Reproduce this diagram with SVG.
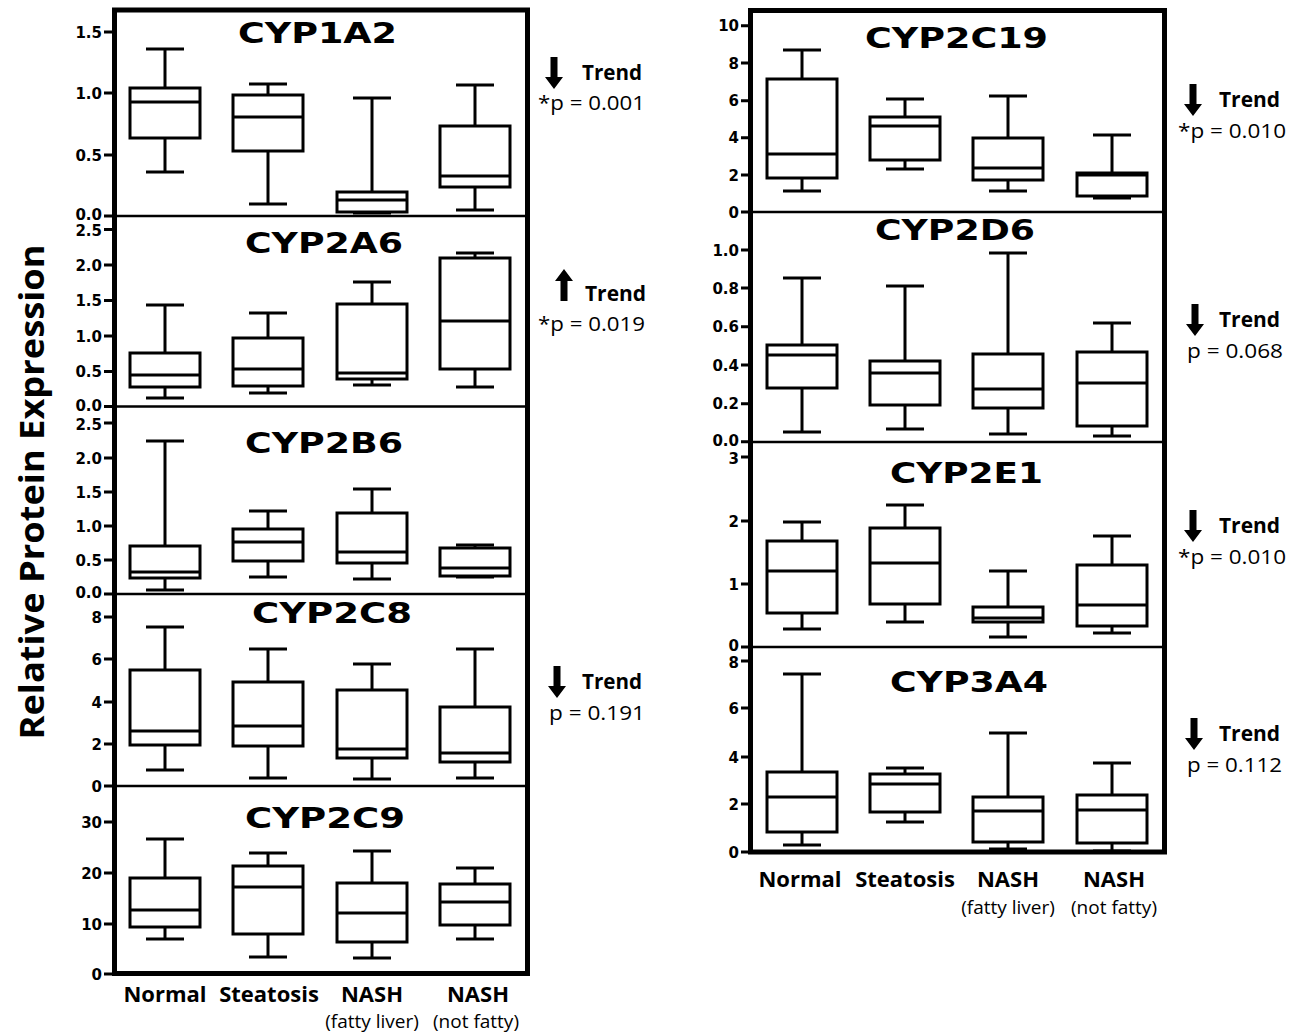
<svg xmlns="http://www.w3.org/2000/svg" width="1299" height="1033" viewBox="0 0 1299 1033">
<style>
.frame{fill:none;stroke:#000;stroke-width:5}
.div{stroke:#000;stroke-width:2.5}
.tk{stroke:#000;stroke-width:3}
.tl{font-family:"DejaVu Sans",sans-serif;font-weight:bold;font-size:15px;text-anchor:end;fill:#000}
.w{fill:none;stroke:#000;stroke-width:3}
.b{fill:#fff;stroke:#000;stroke-width:3}
.ttl{font-family:"DejaVu Sans",sans-serif;font-weight:bold;font-size:29px;fill:#000}
.cat{font-family:"Open Sans",sans-serif;font-weight:bold;font-size:22px;text-anchor:middle;fill:#000}
.sub{font-family:"Open Sans",sans-serif;font-size:19px;text-anchor:middle;fill:#000}
.tr{font-family:"Open Sans",sans-serif;font-weight:bold;font-size:21px;fill:#000}
.pv{font-family:"Open Sans",sans-serif;font-size:20px;fill:#000}
.yl{font-family:"Open Sans",sans-serif;font-weight:bold;font-size:34px;text-anchor:middle;fill:#000}
</style>
<defs>
<path id="dn" d="M-3.5 0H3.5V20H9L0 32L-9 20H-3.5Z" fill="#000"/>
</defs>
<rect width="1299" height="1033" fill="#fff"/>

<text class="yl" transform="translate(44,492) rotate(-90)" textLength="495" lengthAdjust="spacingAndGlyphs">Relative Protein Expression</text>

<g id="left-frame">
<rect class="frame" x="114.5" y="10" width="413" height="963.5"/>
<path class="div" d="M114.5 216H527.5M114.5 406.5H527.5M114.5 594H527.5M114.5 786H527.5"/>
</g>

<g id="CYP1A2">
<path class="tk" d="M104 216H114M104 155H114M104 93H114M104 32H114"/>
<text class="tl" x="102" y="219.5">0.0</text><text class="tl" x="102" y="160.5">0.5</text><text class="tl" x="102" y="98.5">1.0</text><text class="tl" x="102" y="37.5">1.5</text>
<text class="ttl" x="238" y="43" textLength="159" lengthAdjust="spacingAndGlyphs">CYP1A2</text>
<rect class="b" x="130" y="88" width="70" height="50"/><path class="w" d="M165 49V88M165 138V172M146 49H184M146 172H184M130 102H200"/>
<rect class="b" x="233" y="95" width="70" height="56"/><path class="w" d="M268 84V95M268 151V204M249 84H287M249 204H287M233 117H303"/>
<rect class="b" x="337" y="192" width="70" height="20"/><path class="w" d="M372 98V192M372 212V213M353 98H391M353 213H391M337 200H407"/>
<rect class="b" x="440" y="126" width="70" height="61"/><path class="w" d="M475 85V126M475 187V210M456 85H494M456 210H494M440 176H510"/>
</g>

<g id="CYP2A6">
<path class="tk" d="M104 406.5H114M104 371.5H114M104 336H114M104 300.5H114M104 265H114M104 229.5H114"/>
<text class="tl" x="102" y="410.5">0.0</text><text class="tl" x="102" y="377">0.5</text><text class="tl" x="102" y="341.5">1.0</text><text class="tl" x="102" y="306">1.5</text><text class="tl" x="102" y="270.5">2.0</text><text class="tl" x="102" y="236">2.5</text>
<text class="ttl" x="245" y="253" textLength="158" lengthAdjust="spacingAndGlyphs">CYP2A6</text>
<rect class="b" x="130" y="353" width="70" height="34"/><path class="w" d="M165 305V353M165 387V398M146 305H184M146 398H184M130 375H200"/>
<rect class="b" x="233" y="338" width="70" height="48"/><path class="w" d="M268 313V338M268 386V393M249 313H287M249 393H287M233 369H303"/>
<rect class="b" x="337" y="304" width="70" height="75"/><path class="w" d="M372 282V304M372 379V385M353 282H391M353 385H391M337 373H407"/>
<rect class="b" x="440" y="258" width="70" height="111"/><path class="w" d="M475 253V258M475 369V387M456 253H494M456 387H494M440 321H510"/>
</g>

<g id="CYP2B6">
<path class="tk" d="M104 594H114M104 560H114M104 526H114M104 492H114M104 458H114M104 423H114"/>
<text class="tl" x="102" y="598">0.0</text><text class="tl" x="102" y="565.5">0.5</text><text class="tl" x="102" y="531.5">1.0</text><text class="tl" x="102" y="497.5">1.5</text><text class="tl" x="102" y="463.5">2.0</text><text class="tl" x="102" y="429.5">2.5</text>
<text class="ttl" x="245" y="453" textLength="158" lengthAdjust="spacingAndGlyphs">CYP2B6</text>
<rect class="b" x="130" y="546" width="70" height="32"/><path class="w" d="M165 441V546M165 578V590M146 441H184M146 590H184M130 572H200"/>
<rect class="b" x="233" y="529" width="70" height="32"/><path class="w" d="M268 511V529M268 561V577M249 511H287M249 577H287M233 542H303"/>
<rect class="b" x="337" y="513" width="70" height="50"/><path class="w" d="M372 489V513M372 563V579M353 489H391M353 579H391M337 552H407"/>
<rect class="b" x="440" y="548" width="70" height="28"/><path class="w" d="M475 545V548M475 576V577M456 545H494M456 577H494M440 568H510"/>
</g>

<g id="CYP2C8">
<path class="tk" d="M104 786H114M104 744H114M104 702H114M104 659H114M104 617H114"/>
<text class="tl" x="102" y="791.5">0</text><text class="tl" x="102" y="749.5">2</text><text class="tl" x="102" y="707.5">4</text><text class="tl" x="102" y="664.5">6</text><text class="tl" x="102" y="622.5">8</text>
<text class="ttl" x="252" y="623" textLength="160" lengthAdjust="spacingAndGlyphs">CYP2C8</text>
<rect class="b" x="130" y="670" width="70" height="75"/><path class="w" d="M165 627V670M165 745V770M146 627H184M146 770H184M130 731H200"/>
<rect class="b" x="233" y="682" width="70" height="64"/><path class="w" d="M268 649V682M268 746V778M249 649H287M249 778H287M233 726H303"/>
<rect class="b" x="337" y="690" width="70" height="68"/><path class="w" d="M372 664V690M372 758V779M353 664H391M353 779H391M337 749H407"/>
<rect class="b" x="440" y="707" width="70" height="55"/><path class="w" d="M475 649V707M475 762V778M456 649H494M456 778H494M440 753H510"/>
</g>

<g id="CYP2C9">
<path class="tk" d="M104 974H114M104 924H114M104 873H114M104 822H114"/>
<text class="tl" x="102" y="979.5">0</text><text class="tl" x="102" y="929.5">10</text><text class="tl" x="102" y="878.5">20</text><text class="tl" x="102" y="827.5">30</text>
<text class="ttl" x="245" y="828" textLength="160" lengthAdjust="spacingAndGlyphs">CYP2C9</text>
<rect class="b" x="130" y="878" width="70" height="49"/><path class="w" d="M165 839V878M165 927V939M146 839H184M146 939H184M130 910H200"/>
<rect class="b" x="233" y="866" width="70" height="68"/><path class="w" d="M268 853V866M268 934V957M249 853H287M249 957H287M233 887H303"/>
<rect class="b" x="337" y="883" width="70" height="59"/><path class="w" d="M372 851V883M372 942V958M353 851H391M353 958H391M337 913H407"/>
<rect class="b" x="440" y="884" width="70" height="41"/><path class="w" d="M475 868V884M475 925V939M456 868H494M456 939H494M440 902H510"/>
</g>

<g id="left-categories">
<text class="cat" x="165" y="1002">Normal</text>
<text class="cat" x="269" y="1002">Steatosis</text>
<text class="cat" x="372" y="1002">NASH</text>
<text class="cat" x="478" y="1002">NASH</text>
<text class="sub" x="372" y="1028">(fatty liver)</text>
<text class="sub" x="476" y="1028">(not fatty)</text>
</g>

<g id="left-trends">
<use href="#dn" transform="translate(554,57)"/>
<text class="tr" x="582" y="80" textLength="60" lengthAdjust="spacingAndGlyphs">Trend</text>
<text class="pv" x="538" y="110" textLength="107" lengthAdjust="spacingAndGlyphs">*p = 0.001</text>
<use href="#dn" transform="translate(564,301) scale(1,-1)"/>
<text class="tr" x="585" y="301" textLength="61" lengthAdjust="spacingAndGlyphs">Trend</text>
<text class="pv" x="538" y="331" textLength="107" lengthAdjust="spacingAndGlyphs">*p = 0.019</text>
<use href="#dn" transform="translate(557,666)"/>
<text class="tr" x="582" y="689" textLength="60" lengthAdjust="spacingAndGlyphs">Trend</text>
<text class="pv" x="549" y="720" textLength="96" lengthAdjust="spacingAndGlyphs">p = 0.191</text>
</g>

<g id="right-frame">
<rect class="frame" x="750.5" y="10.5" width="414" height="841.5"/>
<path class="div" d="M750.5 212H1164.5M750.5 442H1164.5M750.5 647H1164.5"/>
</g>

<g id="CYP2C19">
<path class="tk" d="M741 212H751M741 175H751M741 137.7H751M741 100.7H751M741 63H751M741 25.7H751"/>
<text class="tl" x="739" y="217.5">0</text><text class="tl" x="739" y="180.5">2</text><text class="tl" x="739" y="143">4</text><text class="tl" x="739" y="106">6</text><text class="tl" x="739" y="68.5">8</text><text class="tl" x="739" y="31">10</text>
<text class="ttl" x="865" y="48" textLength="183" lengthAdjust="spacingAndGlyphs">CYP2C19</text>
<rect class="b" x="767" y="79" width="70" height="99"/><path class="w" d="M802 50V79M802 178V191M783 50H821M783 191H821M767 154H837"/>
<rect class="b" x="870" y="117" width="70" height="43"/><path class="w" d="M905 99V117M905 160V169M886 99H924M886 169H924M870 126H940"/>
<rect class="b" x="973" y="138" width="70" height="42"/><path class="w" d="M1008 96V138M1008 180V191M989 96H1027M989 191H1027M973 168H1043"/>
<rect class="b" x="1077" y="173" width="70" height="23"/><path class="w" d="M1112 135V173M1112 196V198M1093 135H1131M1093 198H1131M1077 175H1147"/>
</g>

<g id="CYP2D6">
<path class="tk" d="M741 441.7H751M741 403.7H751M741 365H751M741 326.7H751M741 288H751M741 250H751"/>
<text class="tl" x="739" y="445.5">0.0</text><text class="tl" x="739" y="409">0.2</text><text class="tl" x="739" y="370.5">0.4</text><text class="tl" x="739" y="332">0.6</text><text class="tl" x="739" y="293.5">0.8</text><text class="tl" x="739" y="255.5">1.0</text>
<text class="ttl" x="875" y="240" textLength="160" lengthAdjust="spacingAndGlyphs">CYP2D6</text>
<rect class="b" x="767" y="345" width="70" height="43"/><path class="w" d="M802 278V345M802 388V432M783 278H821M783 432H821M767 355H837"/>
<rect class="b" x="870" y="361" width="70" height="44"/><path class="w" d="M905 286V361M905 405V429M886 286H924M886 429H924M870 373H940"/>
<rect class="b" x="973" y="354" width="70" height="54"/><path class="w" d="M1008 253V354M1008 408V434M989 253H1027M989 434H1027M973 389H1043"/>
<rect class="b" x="1077" y="352" width="70" height="74"/><path class="w" d="M1112 323V352M1112 426V436M1093 323H1131M1093 436H1131M1077 383H1147"/>
</g>

<g id="CYP2E1">
<path class="tk" d="M741 647H751M741 584H751M741 521H751M741 457H751"/>
<text class="tl" x="739" y="651">0</text><text class="tl" x="739" y="589.5">1</text><text class="tl" x="739" y="526.5">2</text><text class="tl" x="739" y="463.5">3</text>
<text class="ttl" x="890" y="483" textLength="153" lengthAdjust="spacingAndGlyphs">CYP2E1</text>
<rect class="b" x="767" y="541" width="70" height="72"/><path class="w" d="M802 522V541M802 613V629M783 522H821M783 629H821M767 571H837"/>
<rect class="b" x="870" y="528" width="70" height="76"/><path class="w" d="M905 505V528M905 604V622M886 505H924M886 622H924M870 563H940"/>
<rect class="b" x="973" y="607" width="70" height="15"/><path class="w" d="M1008 571V607M1008 622V637M989 571H1027M989 637H1027M973 618H1043"/>
<rect class="b" x="1077" y="565" width="70" height="61"/><path class="w" d="M1112 536V565M1112 626V633M1093 536H1131M1093 633H1131M1077 605H1147"/>
</g>

<g id="CYP3A4">
<path class="tk" d="M741 852H751M741 804H751M741 757H751M741 708H751M741 661H751"/>
<text class="tl" x="739" y="857.5">0</text><text class="tl" x="739" y="809.5">2</text><text class="tl" x="739" y="762.5">4</text><text class="tl" x="739" y="713.5">6</text><text class="tl" x="739" y="668">8</text>
<text class="ttl" x="890" y="692" textLength="158" lengthAdjust="spacingAndGlyphs">CYP3A4</text>
<rect class="b" x="767" y="772" width="70" height="60"/><path class="w" d="M802 674V772M802 832V845M783 674H821M783 845H821M767 797H837"/>
<rect class="b" x="870" y="774" width="70" height="38"/><path class="w" d="M905 768V774M905 812V822M886 768H924M886 822H924M870 784H940"/>
<rect class="b" x="973" y="797" width="70" height="45"/><path class="w" d="M1008 733V797M1008 842V849M989 733H1027M989 849H1027M973 811H1043"/>
<rect class="b" x="1077" y="795" width="70" height="48"/><path class="w" d="M1112 763V795M1112 843V851M1093 763H1131M1093 851H1131M1077 810H1147"/>
</g>

<g id="right-categories">
<text class="cat" x="800" y="887">Normal</text>
<text class="cat" x="905" y="887">Steatosis</text>
<text class="cat" x="1008" y="887">NASH</text>
<text class="cat" x="1114" y="887">NASH</text>
<text class="sub" x="1008" y="914">(fatty liver)</text>
<text class="sub" x="1114" y="914">(not fatty)</text>
</g>

<g id="right-trends">
<use href="#dn" transform="translate(1193,84)"/>
<text class="tr" x="1219" y="107" textLength="61" lengthAdjust="spacingAndGlyphs">Trend</text>
<text class="pv" x="1178" y="138" textLength="108" lengthAdjust="spacingAndGlyphs">*p = 0.010</text>
<use href="#dn" transform="translate(1195,304)"/>
<text class="tr" x="1219" y="327" textLength="61" lengthAdjust="spacingAndGlyphs">Trend</text>
<text class="pv" x="1187" y="358" textLength="96" lengthAdjust="spacingAndGlyphs">p = 0.068</text>
<use href="#dn" transform="translate(1193,510)"/>
<text class="tr" x="1219" y="533" textLength="61" lengthAdjust="spacingAndGlyphs">Trend</text>
<text class="pv" x="1178" y="564" textLength="108" lengthAdjust="spacingAndGlyphs">*p = 0.010</text>
<use href="#dn" transform="translate(1194,718)"/>
<text class="tr" x="1219" y="741" textLength="61" lengthAdjust="spacingAndGlyphs">Trend</text>
<text class="pv" x="1187" y="772" textLength="95" lengthAdjust="spacingAndGlyphs">p = 0.112</text>
</g>
</svg>
